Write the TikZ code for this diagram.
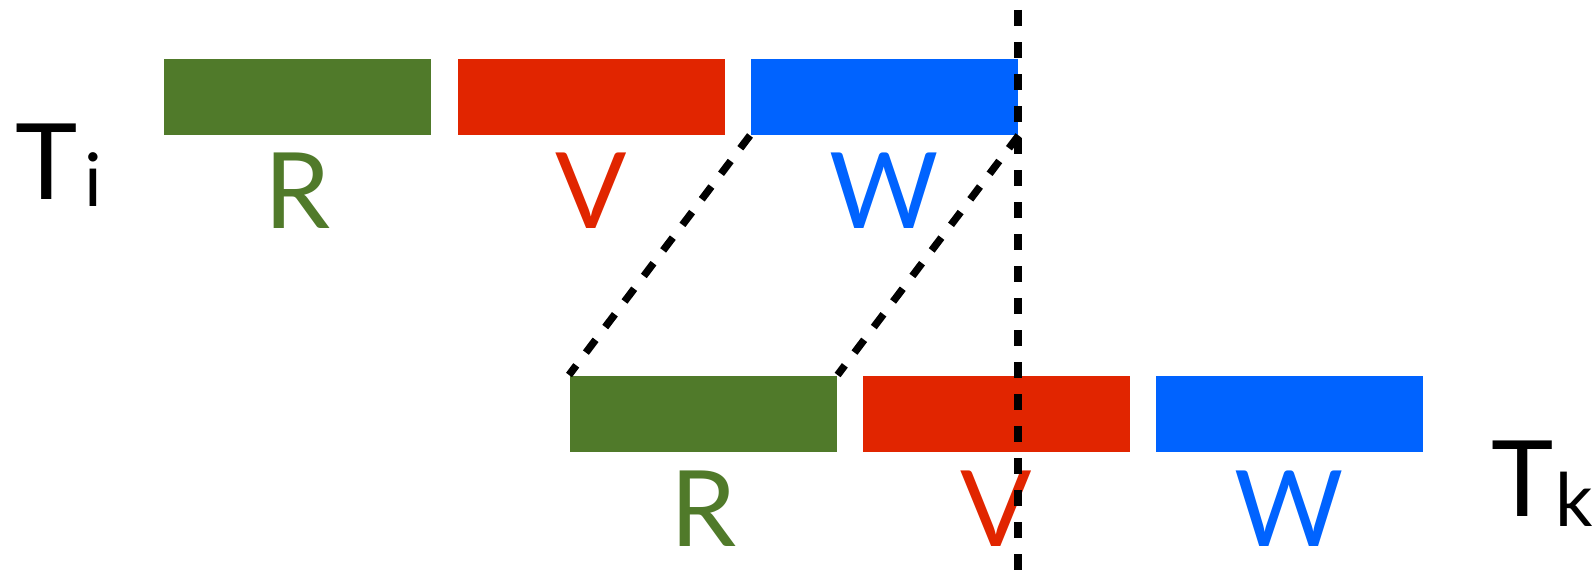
\documentclass[tikz,border=0pt]{standalone}
\usepackage{fontspec}
\setmainfont{Lato}
\usetikzlibrary{calc}
\definecolor{cgreen}{RGB}{80,122,42}
\definecolor{cred}{RGB}{225,37,0}
\definecolor{cblue}{RGB}{0,99,255}
\begin{document}
\begin{tikzpicture}[x=0.01cm,y=-0.01cm,
  bar/.style={rectangle,draw=none,minimum width=2.67cm,minimum height=0.76cm,inner sep=0,anchor=north west},
  lbl/.style={inner sep=0,anchor=base,font=\fontsize{30}{30}\selectfont},
  big/.style={inner sep=0,anchor=base west,font=\fontsize{30}{30}\selectfont},
  sub/.style={inner sep=0,anchor=base west,font=\fontsize{21}{21}\selectfont},
  dline/.style={line width=2.1pt,dash pattern=on 0.16cm off 0.16cm}]
\useasboundingbox (0,0) rectangle (1596,570);
% top row
\node[bar,fill=cgreen] (gi) at (163,58) {};
\node[bar,fill=cred] (ri) at (457,58) {};
\node[bar,fill=cblue] (bi) at (750,58) {};
% bottom row
\node[bar,fill=cgreen] (gk) at (569,375) {};
\node[bar,fill=cred] (rk) at (862,375) {};
\node[bar,fill=cblue] (bk) at (1155,375) {};
% labels
\node[lbl,text=cgreen] (lri) at ($(gi.south)+(0,93)$) {R};
\node[lbl,text=cred] (lvi) at ($(ri.south)+(0,93)$) {V};
\node[lbl,text=cblue] (lwi) at ($(bi.south)+(0,93)$) {W};
\node[lbl,text=cgreen] (lrk) at ($(gk.south)+(0,94)$) {R};
\node[lbl,text=cred] (lvk) at ($(rk.south)+(0,94)$) {V};
\node[lbl,text=cblue] (lwk) at ($(bk.south)+(0,94)$) {W};
% T labels
\node[big] (Ti) at (15,200) {T};
\node[sub] (Tisub) at (84,207) {i};
\node[big] (Tk) at (1491,517) {T};
\node[sub] (Tksub) at (1555,527) {k};
% dashed lines
\coordinate (vtop) at (1018,10);
\coordinate (vbot) at (1018,570);
\draw[dline] (vtop) -- (vbot);
\draw[dline] (bi.south west) -- (gk.north west);
\draw[dline] (bi.south east) -- (gk.north east);
\end{tikzpicture}
\end{document}
